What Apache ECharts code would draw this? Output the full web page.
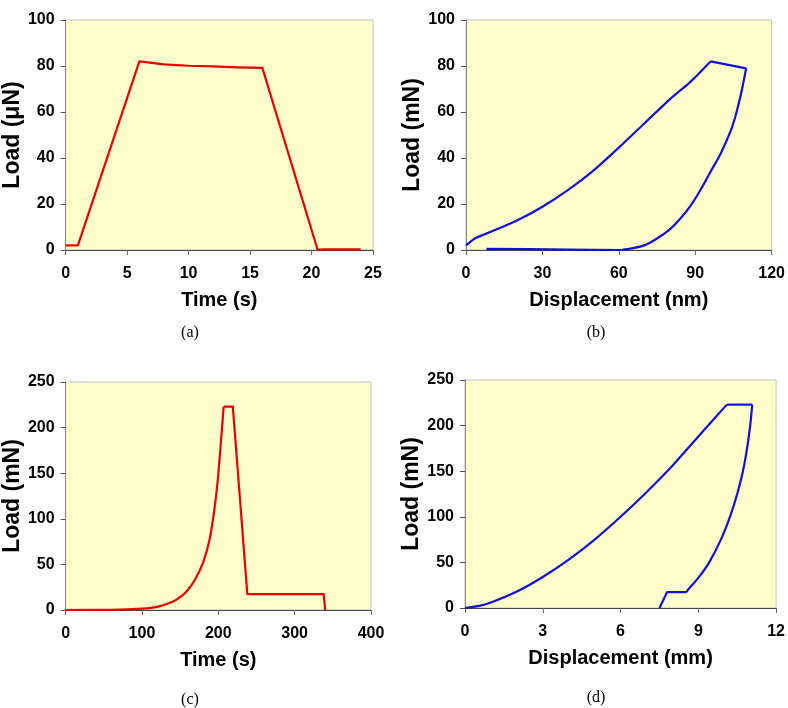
<!DOCTYPE html>
<html>
<head>
<meta charset="utf-8">
<script src="https://cdn.jsdelivr.net/npm/echarts@6/dist/echarts.min.js"></script>
<style>
html,body{margin:0;padding:0;background:#fff;}
#chart{width:788px;height:708px;}
</style>
</head>
<body>
<div id="chart"></div>
<script>
// Panel (a): Load (μN) vs Time (s)
var aTime = [0, 1, 6, 8, 10, 12, 14, 16, 20.5, 20.9, 24];
var aLoad = [2, 2, 82, 80.7, 80.1, 79.8, 79.4, 79.2, 0, 0.3, 0.3];

// Panel (b): Load (mN) vs Displacement (nm)
var bLoadingDisp = [0, 4, 10, 20, 30, 40, 50, 60, 70, 80, 88, 96];
var bLoadingLoad = [2, 5.3, 8, 12.8, 18.8, 26, 34.5, 44.5, 55, 65.5, 73, 82];
var bHoldDisp = [96, 110];
var bHoldLoad = [82, 79];
var bUnloadDisp = [110, 108, 106, 104, 100, 96, 92, 88, 84, 80, 75, 70, 65, 61];
var bUnloadLoad = [79, 68, 59, 52, 42, 34, 26, 19, 13.5, 9, 5, 2, 0.7, 0];
var bBaseDisp = [61, 40, 25, 8];
var bBaseLoad = [0, 0.2, 0.4, 0.5];

// Panel (c): Load (mN) vs Time (s)
var cRiseTime = [0, 60, 100, 120, 140, 150, 160, 170, 180, 188, 194, 199, 203, 207];
var cRiseLoad = [0, 0.2, 1.5, 3.5, 9, 14, 22, 34, 52, 75, 105, 140, 180, 223];
var cRestTime = [207, 219, 238, 338, 340];
var cRestLoad = [223, 223, 17.5, 17.5, 0];

// Panel (d): Load (mN) vs Displacement (mm)
var dLoadingDisp = [0, 0.5, 1, 2, 3, 4, 5, 6, 7, 8, 9, 10.1];
var dLoadingLoad = [0, 2, 6, 18, 34, 53, 75, 100, 127, 156, 188, 223];
var dHoldDisp = [10.1, 11.08];
var dHoldLoad = [223, 223];
var dUnloadDisp = [11.08, 11.0, 10.88, 10.72, 10.5, 10.22, 9.87, 9.42, 9.0, 8.6, 8.55];
var dUnloadLoad = [223, 200, 175, 150, 125, 100, 75, 50, 33, 20, 17.5];
var dStepDisp = [8.55, 7.8, 7.5];
var dStepLoad = [17.5, 17.5, 0];

// Axis settings (min, max, interval)
var aX = [0, 25, 5], aY = [0, 100, 20];
var bX = [0, 120, 30], bY = [0, 100, 20];
var cX = [0, 400, 100], cY = [0, 250, 50];
var dX = [0, 12, 3], dY = [0, 250, 50];

var xNames = ['Time (s)', 'Displacement (nm)', 'Time (s)', 'Displacement (mm)'];
var yNames = ['Load (\u03bcN)', 'Load (mN)', 'Load (mN)', 'Load (mN)'];
var captions = ['(a)', '(b)', '(c)', '(d)'];

function pairs(xs, ys) { return xs.map(function (x, i) { return [x, ys[i]]; }); }

var FONT = "'Liberation Sans', Arial, sans-serif";
var RED = '#ee0000', BLUE = '#1010dd';
var grids = [
  {left: 60, top: 20, width: 313, height: 230},
  {left: 466, top: 20, width: 310, height: 230},
  {left: 59, top: 382, width: 312, height: 228},
  {left: 465, top: 380, width: 314, height: 228}
];
var xr = [aX, bX, cX, dX], yr = [aY, bY, cY, dY];
var yGaps = [38, 40, 37, 37];

function line(idx, xs, ys, color, smooth) {
  return {type: 'line', xAxisIndex: idx, yAxisIndex: idx, data: pairs(xs, ys),
          showSymbol: false, symbol: 'none', smooth: smooth ? 0.25 : false,
          lineStyle: {color: color, width: 2.2, join: 'round'}};
}

var option = {
  animation: false,
  backgroundColor: '#ffffff',
  grid: grids.map(function (g) {
    return Object.assign({show: true, backgroundColor: '#ffffcc', borderColor: '#c0c0c0', borderWidth: 1}, g);
  }),
  xAxis: xr.map(function (r, i) {
    return {
      type: 'value', gridIndex: i, min: r[0], max: r[1], interval: r[2],
      name: xNames[i], nameLocation: 'middle', nameGap: 40,
      nameTextStyle: {fontFamily: FONT, fontWeight: 'bold', fontSize: 20, color: '#000'},
      axisLine: {show: true, onZero: false, lineStyle: {color: '#444', width: 1}},
      axisTick: {show: true, length: 5, lineStyle: {color: '#666'}},
      axisLabel: {fontFamily: FONT, fontWeight: 'bold', fontSize: 16, color: '#000', margin: 16},
      splitLine: {show: false}
    };
  }),
  yAxis: yr.map(function (r, i) {
    return {
      type: 'value', gridIndex: i, min: r[0], max: r[1], interval: r[2],
      name: yNames[i], nameLocation: 'middle', nameGap: yGaps[i], nameRotate: 90,
      nameTextStyle: {fontFamily: FONT, fontWeight: 'bold', fontSize: 23, color: '#000'},
      axisLine: {show: true, onZero: false, lineStyle: {color: '#888', width: 1}},
      axisTick: {show: true, length: 5, lineStyle: {color: '#555'}},
      axisLabel: {fontFamily: FONT, fontWeight: 'bold', fontSize: 16, color: '#000', margin: 11},
      splitLine: {show: false}
    };
  }),
  series: [
    line(0, aTime, aLoad, RED, false),
    line(1, bLoadingDisp, bLoadingLoad, BLUE, true),
    line(1, bHoldDisp, bHoldLoad, BLUE, false),
    line(1, bUnloadDisp, bUnloadLoad, BLUE, true),
    line(1, bBaseDisp, bBaseLoad, BLUE, false),
    line(2, cRiseTime, cRiseLoad, RED, true),
    line(2, cRestTime, cRestLoad, RED, false),
    line(3, dLoadingDisp, dLoadingLoad, BLUE, true),
    line(3, dHoldDisp, dHoldLoad, BLUE, false),
    line(3, dUnloadDisp, dUnloadLoad, BLUE, true),
    line(3, dStepDisp, dStepLoad, BLUE, false)
  ],
  graphic: [
    {type: 'text', x: 190, y: 333, style: {text: captions[0], font: "16px 'Liberation Serif', 'Times New Roman', serif", fill: '#000', textAlign: 'center', textVerticalAlign: 'middle'}},
    {type: 'text', x: 596, y: 333, style: {text: captions[1], font: "16px 'Liberation Serif', 'Times New Roman', serif", fill: '#000', textAlign: 'center', textVerticalAlign: 'middle'}},
    {type: 'text', x: 190, y: 700, style: {text: captions[2], font: "16px 'Liberation Serif', 'Times New Roman', serif", fill: '#000', textAlign: 'center', textVerticalAlign: 'middle'}},
    {type: 'text', x: 596, y: 698, style: {text: captions[3], font: "16px 'Liberation Serif', 'Times New Roman', serif", fill: '#000', textAlign: 'center', textVerticalAlign: 'middle'}}
  ]
};

var chart = echarts.init(document.getElementById('chart'), null, {renderer: 'canvas'});
chart.setOption(option);
</script>
</body>
</html>
